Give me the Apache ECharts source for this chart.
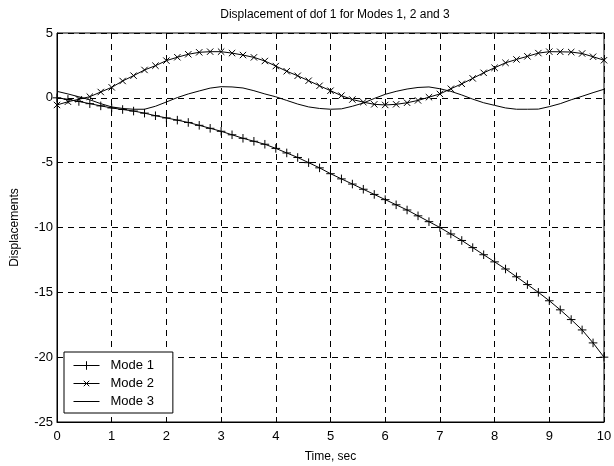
<!DOCTYPE html>
<html>
<head>
<meta charset="utf-8">
<script src="https://cdn.jsdelivr.net/npm/echarts@6/dist/echarts.min.js"></script>
<style>html,body{margin:0;padding:0;background:#fff;}#c{width:614px;height:466px;}</style>
</head>
<body>
<div id="c"></div>
<script>
var times = [0,0.2,0.4,0.6,0.8,1,1.2,1.4,1.6,1.8,2,2.2,2.4,2.6,2.8,3,3.2,3.4,3.6,3.8,4,4.2,4.4,4.6,4.8,5,5.2,5.4,5.6,5.8,6,6.2,6.4,6.6,6.8,7,7.2,7.4,7.6,7.8,8,8.2,8.4,8.6,8.8,9,9.2,9.4,9.6,9.8,10];
var mode1 = [0,-0.12,-0.28,-0.45,-0.62,-0.78,-0.9,-1.02,-1.18,-1.38,-1.55,-1.72,-1.9,-2.12,-2.35,-2.58,-2.85,-3.12,-3.35,-3.58,-3.9,-4.25,-4.6,-5.0,-5.4,-5.85,-6.25,-6.65,-7.05,-7.45,-7.85,-8.25,-8.65,-9.1,-9.55,-10.0,-10.5,-11.0,-11.55,-12.1,-12.65,-13.2,-13.8,-14.4,-15.0,-15.65,-16.35,-17.1,-17.9,-18.9,-20.0];
var mode2 = [-0.55,-0.3,-0.11,0.09,0.45,0.81,1.3,1.71,2.15,2.48,2.87,3.13,3.36,3.51,3.56,3.56,3.45,3.3,3.12,2.84,2.45,2.05,1.7,1.32,0.93,0.55,0.17,-0.13,-0.33,-0.5,-0.55,-0.5,-0.38,-0.2,0.05,0.3,0.7,1.08,1.5,1.93,2.32,2.7,2.96,3.2,3.45,3.56,3.55,3.53,3.42,3.17,2.9];
var mode3 = [0.5,0.3,0.08,-0.15,-0.45,-0.7,-0.82,-0.88,-0.88,-0.65,-0.32,0.02,0.3,0.53,0.75,0.86,0.84,0.76,0.55,0.3,0.08,-0.2,-0.48,-0.7,-0.82,-0.88,-0.85,-0.65,-0.4,-0.05,0.27,0.5,0.68,0.8,0.84,0.7,0.5,0.22,-0.1,-0.38,-0.58,-0.78,-0.88,-0.88,-0.87,-0.68,-0.45,-0.15,0.12,0.4,0.66];
var seriesNames = ['Mode 1','Mode 2','Mode 3'];

function pairs(vals){ return times.map(function(t,i){ return [t, vals[i]]; }); }

var FONT = '"Liberation Sans", Arial, sans-serif';
// glyphs with invisible zero-length padding so legend markers come out smaller than plot markers
var plusSym = 'path://M-2,-2L-2,-2M12,12L12,12M0,5L10,5M5,0L5,10';
var crossSym = 'path://M-6,-6L-6,-6M16,16L16,16M0,0L10,10M0,10L10,0';
var noSym = 'path://M0,0L0,0M10,10L10,10';

var chart = echarts.init(document.getElementById('c'), null, {renderer:'canvas'});
chart.setOption({
  animation:false,
  backgroundColor:'#fff',
  title:{ text:'Displacement of dof 1 for Modes 1, 2 and 3', left:330, textAlign:'center', top:4,
    textStyle:{ fontFamily:FONT, fontSize:12, fontWeight:'normal', color:'#000' } },
  grid:{ left:57, right:10, top:33, bottom:44, show:true, borderColor:'#000', borderWidth:1,
    backgroundColor:'transparent', containLabel:false, outerBoundsMode:'none' },
  legend:{ orient:'vertical', left:64, top:352, data:seriesNames,
    backgroundColor:'#fff', borderColor:'#000', borderWidth:1, borderRadius:0,
    padding:[7,19,5,9], itemGap:5, itemWidth:26, itemHeight:15,
    lineStyle:{ width:1, color:'#000' },
    itemStyle:{ borderWidth:1, borderColor:'#000' },
    textStyle:{ fontFamily:FONT, fontSize:13, color:'#000', padding:[0,0,0,6] } },
  xAxis:{ type:'value', min:0, max:10, interval:1,
    name:'Time, sec', nameLocation:'middle', nameGap:29,
    nameTextStyle:{ fontFamily:FONT, fontSize:12, color:'#000' },
    axisLine:{ show:true, onZero:false, lineStyle:{ color:'#000', width:1 } },
    axisTick:{ show:true, inside:true, length:5, lineStyle:{ color:'#000' } },
    axisLabel:{ fontFamily:FONT, fontSize:13, color:'#000', margin:8 },
    splitLine:{ show:true, lineStyle:{ color:'#000', width:1, type:[6,5] } } },
  yAxis:{ type:'value', min:-25, max:5, interval:5,
    name:'Displacements', nameLocation:'middle', nameGap:36, nameRotate:90,
    nameTextStyle:{ fontFamily:FONT, fontSize:12, color:'#000' },
    axisLine:{ show:true, onZero:false, lineStyle:{ color:'#000', width:1 } },
    axisTick:{ show:true, inside:true, length:5, lineStyle:{ color:'#000' } },
    axisLabel:{ fontFamily:FONT, fontSize:13, color:'#000', margin:4 },
    splitLine:{ show:true, lineStyle:{ color:'#000', width:1, type:[6,5] } } },
  series:[
    { name:seriesNames[0], type:'line', data:pairs(mode1), symbol:plusSym, symbolSize:12, showAllSymbol:true,
      lineStyle:{ color:'#000', width:1 }, itemStyle:{ color:'#000', borderColor:'#000', borderWidth:1 }, z:3 },
    { name:seriesNames[1], type:'line', data:pairs(mode2), symbol:crossSym, symbolSize:14, showAllSymbol:true,
      lineStyle:{ color:'#000', width:1 }, itemStyle:{ color:'#000', borderColor:'#000', borderWidth:1 }, z:3 },
    { name:seriesNames[2], type:'line', data:pairs(mode3), symbol:noSym, showSymbol:false,
      lineStyle:{ color:'#000', width:1 }, itemStyle:{ color:'#000', borderColor:'#000', borderWidth:0 }, z:3 }
  ]
});
</script>
</body>
</html>
